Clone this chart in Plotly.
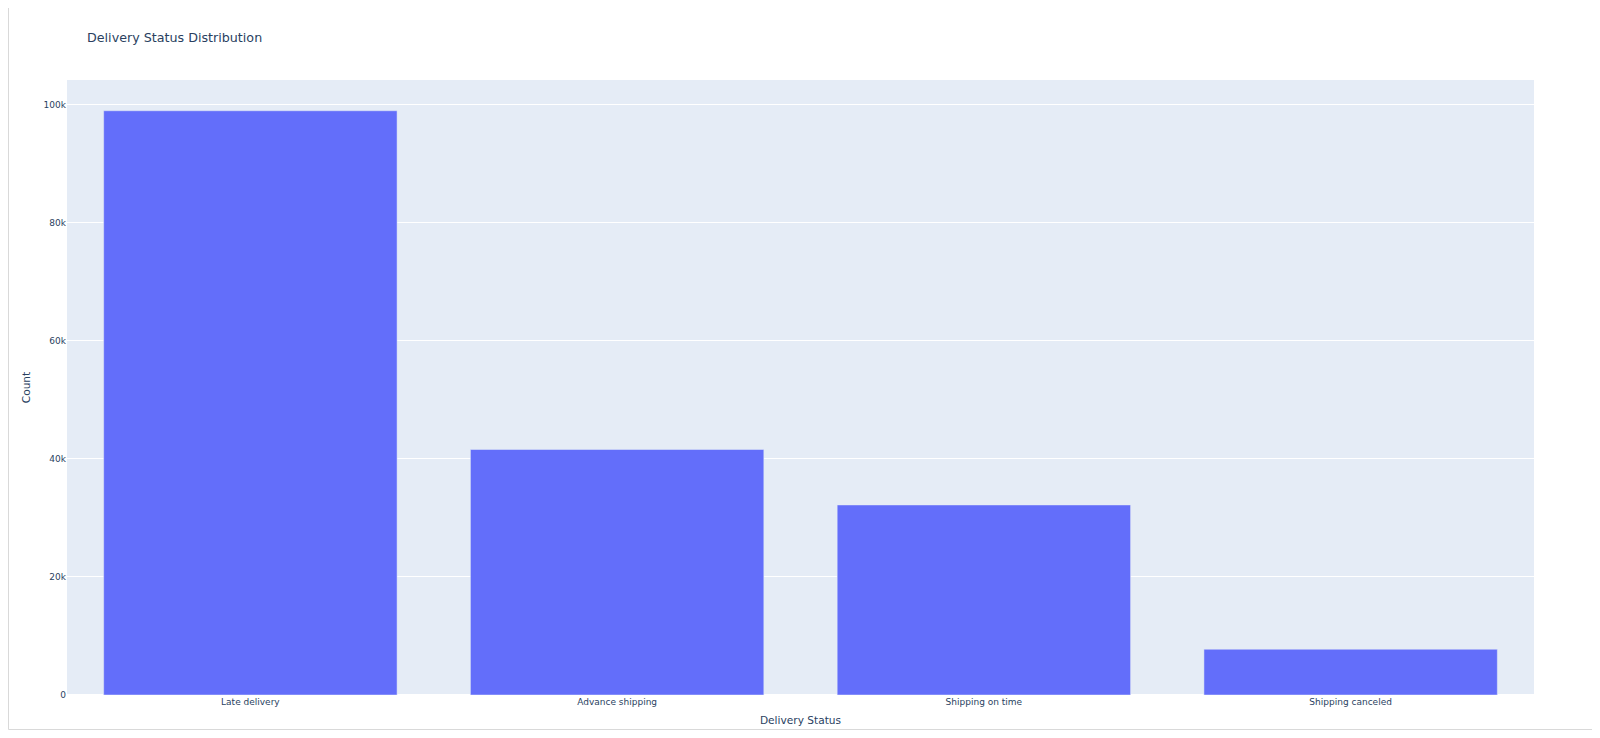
import plotly.graph_objects as go

categories = ["Late delivery", "Advance shipping", "Shipping on time", "Shipping canceled"]
counts = [98977, 41592, 32196, 7754]

W, H = 1584, 722  # page body has 8px margin in a 1600x738 window
L, R, T, B = 59, 58, 72, 35
PW, PH = W - L - R, H - T - B

fig = go.Figure(go.Bar(x=categories, y=counts, marker_color="#636efa"))

frame = dict(color="#d9d9d9", width=1)
fig.add_shape(type="line", xref="paper", yref="paper",
              x0=(0.5 - L) / PW, x1=(0.5 - L) / PW, y0=-(H - 0.5 - T - PH) / PH, y1=(T + PH) / PH,
              line=frame, layer="above")
fig.add_shape(type="line", xref="paper", yref="paper",
              x0=(0.5 - L) / PW, x1=(W - L) / PW,
              y0=-(H - 0.5 - T - PH) / PH, y1=-(H - 0.5 - T - PH) / PH,
              line=frame, layer="above")

fig.update_layout(
    template="plotly",
    width=W,
    height=H,
    margin=dict(l=L, r=R, t=T, b=B, autoexpand=False),
    font=dict(family="DejaVu Sans, Verdana, sans-serif", size=9, color="#2a3f5f"),
    title=dict(text="Delivery Status Distribution", x=79 / W, xanchor="left",
               y=1 - 30 / H, yanchor="middle", font=dict(size=12.7)),
    xaxis=dict(title=dict(text="Delivery Status", font=dict(size=10.6), standoff=10),
               automargin=False),
    yaxis=dict(title=dict(text="Count", font=dict(size=10.6), standoff=10), automargin=False),
    paper_bgcolor="white",
)

fig.write_html("out.html")
